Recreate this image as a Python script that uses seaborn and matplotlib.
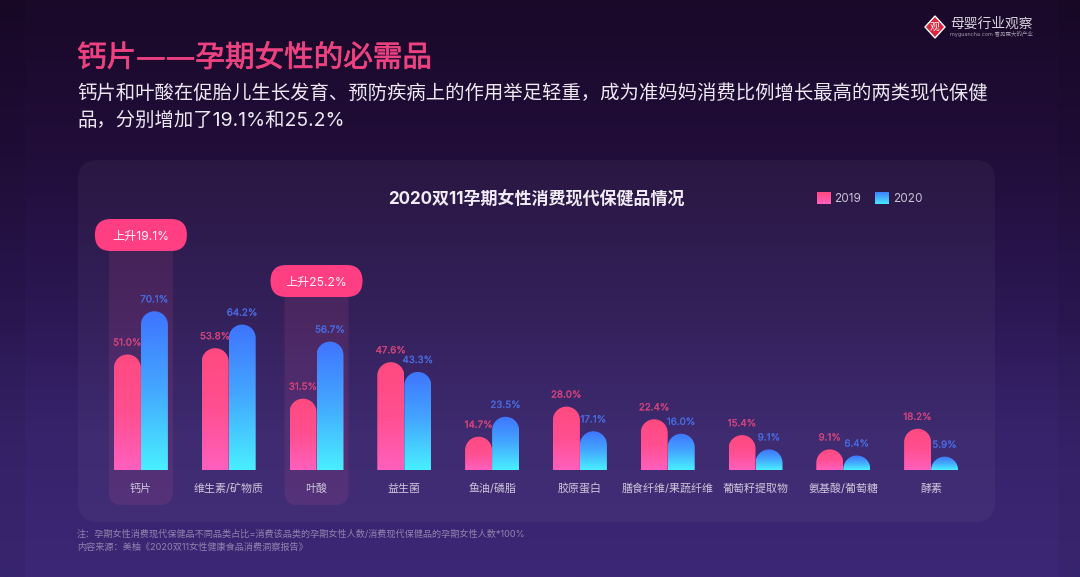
import numpy as np
import pandas as pd
import seaborn as sns
import matplotlib
matplotlib.use("Agg")
import matplotlib.pyplot as plt
import matplotlib.patheffects as pe
from matplotlib.colors import LinearSegmentedColormap as LSC
from matplotlib.patches import FancyBboxPatch, PathPatch, Patch, Polygon, Rectangle
from matplotlib.path import Path

categories = ["钙片", "维生素/矿物质", "叶酸", "益生菌", "鱼油/磷脂", "胶原蛋白",
              "膳食纤维/果蔬纤维", "葡萄籽提取物", "氨基酸/葡萄糖", "酵素"]
values_2019 = [51.0, 53.8, 31.5, 47.6, 14.7, 28.0, 22.4, 15.4, 9.1, 18.2]
values_2020 = [70.1, 64.2, 56.7, 43.3, 23.5, 17.1, 16.0, 9.1, 6.4, 5.9]
years = ["2019", "2020"]
highlights = {"钙片": "上升19.1%", "叶酸": "上升25.2%"}

title = "钙片——孕期女性的必需品"
subtitle = ["钙片和叶酸在促胎儿生长发育、预防疾病上的作用举足轻重，成为准妈妈消费比例增长最高的两类现代保健",
            "品，分别增加了19.1%和25.2%"]
chart_title = "2020双11孕期女性消费现代保健品情况"
notes = ["注：孕期女性消费现代保健品不同品类占比=消费该品类的孕期女性人数/消费现代保健品的孕期女性人数*100%",
         "内容来源：美柚《2020双11女性健康食品消费洞察报告》"]

W, H = 1080, 577
sns.set_theme(style="white")
plt.rcParams["font.family"] = ["Inter", "Noto Sans CJK SC", "DejaVu Sans"]

fig = plt.figure(figsize=(W / 100, H / 100), dpi=100)

# full-figure layer in pixel coordinates
bg = fig.add_axes([0, 0, 1, 1], zorder=0)
bg.axis("off")
bg_cmap = LSC.from_list("bg", ["#1a0929", "#210d38", "#2a1650", "#37236b", "#3b2775"])
bg.imshow(np.linspace(0, 1, 256)[:, None], cmap=bg_cmap, extent=[0, W, H, 0], aspect="auto", zorder=0)
bg.set_xlim(0, W); bg.set_ylim(H, 0)
for sx, sw in ((0, 25), (1058, W - 1058)):
    bg.add_patch(Rectangle((sx, 0), sw, H, facecolor="#000000", alpha=0.05, linewidth=0, zorder=0.5))


def rrect(x0, y0, x1, y1, r, **kw):
    p = FancyBboxPatch((x0 + r, y0 + r), x1 - x0 - 2 * r, y1 - y0 - 2 * r,
                       boxstyle=f"round,pad={r},rounding_size={r}", linewidth=0, **kw)
    bg.add_patch(p)
    return p


# panel
rrect(78, 160, 995, 522, 20, facecolor="#ffffff", alpha=0.04, zorder=1)

# chart axes
left, right, base, top = 97, 975, 470, 210
ax = fig.add_axes([left / W, 1 - base / H, (right - left) / W, (base - top) / H], zorder=2)
ax.patch.set_alpha(0)

df = pd.DataFrame({
    "category": categories * 2,
    "year": [years[0]] * len(categories) + [years[1]] * len(categories),
    "value": values_2019 + values_2020,
})
pink = ["#ff4a80", "#ff4f90", "#ff60bd"]
blue = ["#3f74ff", "#44a8ff", "#48efff"]
sns.barplot(data=df, x="category", y="value", hue="year", hue_order=years,
            palette=[pink[0], blue[0]], width=0.615, gap=0, saturation=1,
            legend=False, ax=ax)
ax.set_xlim(-0.5, len(categories) - 0.5)
ax.set_ylim(0, (base - top) / 2.265)
ax.set_xlabel(""); ax.set_ylabel("")
ax.set_yticks([])
sns.despine(ax=ax, left=True, bottom=True)
ax.tick_params(axis="x", length=0, pad=13.6, labelsize=7.9, labelcolor="#cdc6da")
for t in ax.get_xticklabels():
    t.set_va("center")

# gradient bars clipped to a round-topped shape
xpx = (right - left) / (ax.get_xlim()[1] - ax.get_xlim()[0])
ypx = (base - top) / ax.get_ylim()[1]
for cont, cols, lab_col in zip(ax.containers, [pink, blue], ["#cf437c", "#4868dc"]):
    cm = LSC.from_list("g", cols[::-1])
    for rect in cont:
        x, w, h = rect.get_x(), rect.get_width(), rect.get_height()
        rect.set_facecolor("none"); rect.set_edgecolor("none")
        rx = w / 2
        ry = min(rx * xpx, h * ypx) / ypx
        k = 0.5523
        verts = [(x, 0), (x, h - ry),
                 (x, h - ry + k * ry), (x + rx - k * rx, h), (x + rx, h),
                 (x + rx + k * rx, h), (x + w, h - ry + k * ry), (x + w, h - ry),
                 (x + w, 0), (x, 0)]
        codes = [Path.MOVETO, Path.LINETO, Path.CURVE4, Path.CURVE4, Path.CURVE4,
                 Path.CURVE4, Path.CURVE4, Path.CURVE4, Path.LINETO, Path.CLOSEPOLY]
        shape = PathPatch(Path(verts, codes), facecolor="none", edgecolor="none", transform=ax.transData)
        ax.add_patch(shape)
        im = ax.imshow(np.linspace(0, 1, 128)[:, None], cmap=cm, extent=[x, x + w, 0, h],
                       origin="lower", aspect="auto", zorder=2)
        im.set_clip_path(shape)
    for t in ax.bar_label(cont, fmt="%.1f%%", padding=5, fontsize=7.0, color=lab_col):
        t.set_path_effects([pe.withStroke(linewidth=0.18, foreground=lab_col)])
ax.set_xlim(-0.5, len(categories) - 0.5)
ax.set_ylim(0, (base - top) / ypx)

# highlight columns + pills
pill_tops = {"钙片": 219, "叶酸": 265}
for name, label in highlights.items():
    cx = left + (categories.index(name) + 0.5) * xpx
    pill_y = pill_tops[name]
    rrect(cx - 32, pill_y + 16, cx + 32, 505, 13, facecolor="#ff5c9a", alpha=0.11, zorder=1.5)
    rrect(cx - 46, pill_y, cx + 46, pill_y + 32, 16, facecolor="#ff3f82", zorder=2)
    bg.text(cx, pill_y + 17.5, label, color="#fff4f8", fontsize=8.7, ha="center", va="center", zorder=3)

# headings
bg.text(77, 58, title, color="#ec4280", fontsize=21.3, va="center", ha="left", zorder=3,
        family=["DejaVu Sans", "Noto Sans CJK SC"],
        path_effects=[pe.withStroke(linewidth=0.5, foreground="#ec4280")])
bg.text(77, 94, subtitle[0], color="#ece8f2", fontsize=13.96, va="center", ha="left", zorder=3)
bg.text(77, 121, subtitle[1], color="#ece8f2", fontsize=13.96, va="center", ha="left", zorder=3)
bg.text(536, 200, chart_title, color="#f0ecf5", fontsize=12.25, fontweight="bold", va="center", ha="center", zorder=3)
bg.text(77, 534, notes[0], color="#8f84ad", fontsize=6.59, va="center", ha="left", zorder=3)
bg.text(77, 547, notes[1], color="#8f84ad", fontsize=6.59, va="center", ha="left", zorder=3)

# legend
leg = ax.legend(handles=[Patch(facecolor=pink[1], edgecolor="none", label=years[0]),
                         Patch(facecolor=blue[1], edgecolor="none", label=years[1])],
                loc="center left", bbox_to_anchor=((817 - left) / (right - left), (base - 198.7) / (base - top)),
                ncol=2, frameon=False, fontsize=8.5, labelcolor="#c9c2d6",
                handlelength=1.18, handleheight=1.18, handletextpad=0.3, columnspacing=1.18,
                borderpad=0, borderaxespad=0)

# gradient swatches laid exactly over the legend handles
fig.canvas.draw()
for handle, cols in zip(leg.get_patches(), [[pink[0], pink[2]], ["#3f80ff", "#48e6ff"]]):
    box = handle.get_window_extent().transformed(fig.transFigure.inverted())
    sw = fig.add_axes([box.x0, box.y0, box.width, box.height], zorder=5)
    sw.axis("off")
    sw.imshow(np.linspace(0, 1, 64)[:, None], cmap=LSC.from_list("s", cols), aspect="auto")

# logo
bg.add_patch(Polygon([(935, 16), (945, 27), (935, 38), (925, 27)], facecolor="#d8263c", zorder=2))
bg.text(935, 27, "观", color="white", fontsize=7, ha="center", va="center", zorder=3)
bg.text(950, 24, "母婴行业观察", color="#d9d5de", fontsize=9.9, ha="left", va="center", zorder=3)
bg.text(950, 33.5, "myguancha.com 看见更大的产业", color="#9c96a6", fontsize=4, ha="left", va="center", zorder=3)

fig.savefig("out.png", dpi=100, facecolor=fig.get_facecolor())
